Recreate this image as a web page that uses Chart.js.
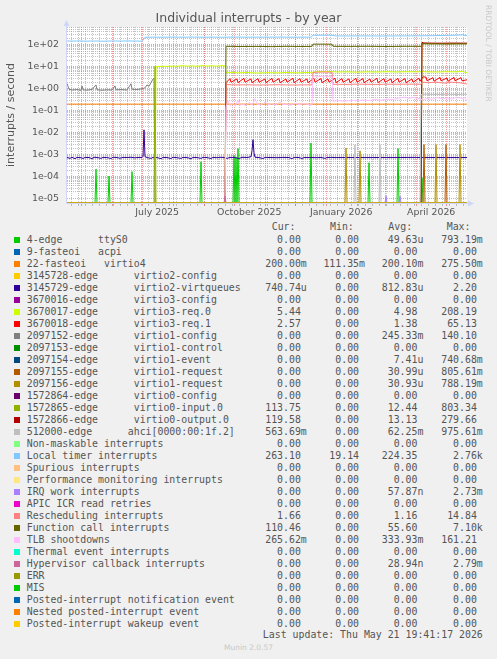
<!DOCTYPE html>
<html><head><meta charset="utf-8">
<script src="https://cdn.jsdelivr.net/npm/chart.js"></script>
<style>
html,body{margin:0;padding:0;background:#F0F0F0;}
#wrap{position:relative;width:497px;height:659px;overflow:hidden;background:#F0F0F0;}
#c{position:absolute;left:0;top:0;display:block;}
.lg{position:absolute;font-family:'DejaVu Sans Mono',monospace;font-size:9.9px;color:#555;white-space:pre;line-height:12px;height:12px;}
.sq{position:absolute;width:6px;height:6px;}
.mu{position:absolute;font-family:'DejaVu Sans',sans-serif;font-size:7.5px;color:#c8c8c8;white-space:pre;}
</style></head><body>
<div id="wrap"><canvas id="c" width="497" height="220"></canvas><div id="legend"></div></div>
<script>
// ---------- text ----------
const chartTitle = 'Individual interrupts - by year';
const yAxisTitle = 'interrupts / second';
const sideText = 'RRDTOOL / TOBI OETIKER';
const lastUpdate = 'Last update: Thu May 21 19:41:17 2026';
const footerText = 'Munin 2.0.57';
const colHeaders = ['Cur:', 'Min:', 'Avg:', 'Max:'];

// ---------- time axis ----------
const startTime = '2025-04-16T19:41:17Z';   // 400 days before last update
const spanDays = 400;
const monthStarts = ['2025-05-01','2025-06-01','2025-07-01','2025-08-01','2025-09-01','2025-10-01','2025-11-01','2025-12-01','2026-01-01','2026-02-01','2026-03-01','2026-04-01','2026-05-01'];
const firstWeekStart = '2025-04-21';
const xLabelDates = ['2025-07-16','2025-10-16','2026-01-16','2026-04-16'];
const xLabelText = ['July 2025','October 2025','January 2026','April 2026'];

// ---------- value axis ----------
const yMin = 6.3e-6, yMax = 650;
const yTickValues = [1e-5,1e-4,1e-3,1e-2,1e-1,1e0,1e1,1e2];
const yTickLabels = ['1e-05','1e-04','1e-03','1e-02','1e-01','1e+00','1e+01','1e+02'];

// ---------- series ----------
const seriesLabels = [
 '4-edge      ttyS0','9-fasteoi   acpi','22-fasteoi   virtio4',
 '3145728-edge      virtio2-config','3145729-edge      virtio2-virtqueues',
 '3670016-edge      virtio3-config','3670017-edge      virtio3-req.0','3670018-edge      virtio3-req.1',
 '2097152-edge      virtio1-config','2097153-edge      virtio1-control','2097154-edge      virtio1-event',
 '2097155-edge      virtio1-request','2097156-edge      virtio1-request',
 '1572864-edge      virtio0-config','1572865-edge      virtio0-input.0','1572866-edge      virtio0-output.0',
 '512000-edge      ahci[0000:00:1f.2]',
 'Non-maskable interrupts','Local timer interrupts','Spurious interrupts','Performance monitoring interrupts',
 'IRQ work interrupts','APIC ICR read retries','Rescheduling interrupts','Function call interrupts',
 'TLB shootdowns','Thermal event interrupts','Hypervisor callback interrupts','ERR','MIS',
 'Posted-interrupt notification event','Nested posted-interrupt event','Posted-interrupt wakeup event'];
const seriesColors = ['#00CC00','#0066B3','#FF8000','#FFCC00','#330099','#990099','#CCFF00','#FF0000',
 '#808080','#008F00','#00487D','#B35A00','#B38F00','#6B006B','#8FB300','#B30000','#BEBEBE',
 '#80FF80','#80C9FF','#FFC080','#FFE680','#AA80FF','#EE00CC','#FF8080','#666600','#FFBFFF',
 '#00FFCC','#CC6699','#999900','#00CC00','#0066B3','#FF8000','#FFCC00'];
const curValues = ['0.00','0.00','200.00m','0.00','740.74u','0.00','5.44','2.57','0.00','0.00','0.00','0.00','0.00','0.00','113.75','119.58','563.69m','0.00','263.10','0.00','0.00','0.00','0.00','1.66','110.46','265.62m','0.00','0.00','0.00','0.00','0.00','0.00','0.00'];
const minValues = ['0.00','0.00','111.35m','0.00','0.00','0.00','0.00','0.00','0.00','0.00','0.00','0.00','0.00','0.00','0.00','0.00','0.00','0.00','19.14','0.00','0.00','0.00','0.00','0.00','0.00','0.00','0.00','0.00','0.00','0.00','0.00','0.00','0.00'];
const avgValues = ['49.63u','0.00','200.10m','0.00','812.83u','0.00','4.98','1.38','245.33m','0.00','7.41u','30.99u','30.93u','0.00','12.44','13.13','62.25m','0.00','224.35','0.00','0.00','57.87n','0.00','1.16','55.60','333.93m','0.00','28.94n','0.00','0.00','0.00','0.00','0.00'];
const maxValues = ['793.19m','0.00','275.50m','0.00','2.20','0.00','208.19','65.13','140.10','0.00','740.68m','805.61m','788.19m','0.00','803.34','279.66','975.61m','0.00','2.76k','0.00','0.00','2.73m','0.00','14.84','7.10k','161.21','0.00','2.79m','0.00','0.00','0.00','0.00','0.00'];

// data points: [day since start, interrupts/second]
const zeroLine = [[0,0],[400,0]];
const ttyS0 = [[0,0],[28,0],[29,2.2e-4],[30,0],[41,0],[42,1.07e-4],[43,0],[64,0],[65,1.7e-4],[66,0],[133,0],[134,4.8e-4],[135,0],[166,0],[167,9e-4],[168,0],[169,7.5e-4],[170,0],[171,1.9e-3],[172,0],[243,0],[244,3.4e-3],[245,0],[301,0],[302,4.3e-4],[303,0],[330,0],[331,1.9e-3],[332,0],[354,0],[355,9e-5],[356,0],[400,0]];
const virtio4 = [[0,0.2],[100,0.2],[200,0.2],[300,0.2],[400,0.2]];
const virtio2Queues = [[0,7.5e-4],[3,6.8e-4],[5,7.6e-4],[8,6.6e-4],[10,7.5e-4],[14,7.3e-4],[16,6.7e-4],[18,7.5e-4],[22,7.4e-4],[25,6.6e-4],[27,7.6e-4],[31,7.3e-4],[34,6.8e-4],[36,7.5e-4],[40,7.4e-4],[44,6.7e-4],[46,7.6e-4],[50,7.4e-4],[53,6.9e-4],[56,7.5e-4],[60,7.4e-4],[64,7.6e-4],[68,7.2e-4],[72,7.5e-4],[75,7.4e-4],[76,8.5e-4],[77,1.35e-2],[78,8e-4],[80,7.4e-4],[84,6.8e-4],[86,7.5e-4],[90,7.4e-4],[94,6.6e-4],[96,7.5e-4],[100,7.4e-4],[104,6.7e-4],[106,7.6e-4],[110,7.3e-4],[114,6.8e-4],[116,7.5e-4],[120,7.4e-4],[124,6.6e-4],[126,7.5e-4],[130,7.4e-4],[134,6.8e-4],[136,7.5e-4],[140,7.4e-4],[144,6.7e-4],[146,7.5e-4],[150,7.3e-4],[154,7.6e-4],[157,7.4e-4],[160,6.8e-4],[163,7.5e-4],[168,7.4e-4],[172,6.7e-4],[175,7.6e-4],[180,7.4e-4],[184,8e-4],[185,1.5e-3],[186,4.8e-3],[187,1.2e-3],[188,7.6e-4],[192,7.4e-4],[196,6.7e-4],[198,7.5e-4],[204,7.4e-4],[210,7.3e-4],[216,7.5e-4],[222,7.4e-4],[225,6.6e-4],[227,7.5e-4],[232,7.4e-4],[235,6.7e-4],[237,7.4e-4],[245,7.4e-4],[250,7.3e-4],[254,7.5e-4],[258,6.8e-4],[260,7.4e-4],[264,7.5e-4],[268,7.4e-4],[300,7.4e-4],[330,7.4e-4],[348,7.5e-4],[352,7.4e-4],[400,7.4e-4]];
const virtio3Req0 = [[0,0],[88,0],[89,10.2],[95,10.6],[100,10.4],[105,10.8],[110,10.5],[115,11.2],[120,10.7],[125,11.0],[130,10.6],[135,11.3],[140,10.8],[145,11.1],[150,10.7],[155,11.4],[158,10.9],[159,5.3],[165,5.6],[170,5.3],[180,5.5],[190,5.2],[200,5.4],[210,5.3],[220,5.5],[230,5.3],[240,5.5],[246,5.6],[250,6.0],[260,6.1],[266,6.0],[270,5.8],[280,5.9],[290,5.7],[300,5.9],[310,5.8],[320,6.0],[330,5.8],[340,6.0],[350,5.9],[355,6.1],[360,5.9],[370,5.8],[380,6.0],[390,5.9],[395,6.3],[398,5.6],[400,5.44]];
const virtio3Req1 = [[0,0],[158,0],[159,1.9],[163,2.9],[164,2.0],[170,2.8],[171,1.9],[177,3.0],[178,2.0],[184,2.8],[185,1.9],[191,2.9],[192,2.0],[198,2.8],[199,1.9],[205,3.0],[206,2.0],[212,2.9],[213,1.9],[219,2.8],[220,2.0],[226,3.0],[227,1.9],[233,2.9],[234,2.0],[240,2.8],[241,1.9],[247,3.0],[248,2.0],[254,2.9],[255,1.9],[261,2.8],[262,2.0],[268,3.0],[269,1.9],[275,2.9],[276,2.0],[282,2.8],[283,1.9],[289,3.0],[290,2.0],[296,2.9],[297,1.9],[303,2.8],[304,2.0],[310,3.0],[311,1.9],[317,2.9],[318,2.0],[324,2.8],[325,1.9],[331,3.0],[332,2.0],[338,2.9],[339,1.9],[345,2.8],[346,2.0],[352,3.0],[353,2.2],[356,3.5],[359,3.4],[360,2.3],[366,3.2],[367,2.2],[373,3.3],[374,2.3],[380,3.1],[381,2.2],[387,3.3],[388,2.3],[394,3.2],[395,2.3],[400,2.57]];
const virtio1Config = [[0,1.75],[2,0.95],[5,0.88],[10,0.92],[14,0.85],[15,1.35],[16,0.9],[20,0.87],[25,0.93],[29,1.5],[30,0.9],[35,0.86],[40,0.9],[45,0.88],[48,1.35],[49,0.9],[55,0.92],[60,0.88],[64,1.7],[65,0.95],[70,0.93],[75,1.0],[78,1.1],[80,1.5],[82,1.3],[84,1.9],[86,2.8],[87,3.0],[88,0],[400,0]];
const virtio1Req55 = [[0,0],[356,0],[357,2.9e-3],[358,0],[378,0],[379,2.9e-3],[380,0],[400,0]];
const virtio1Req56 = [[0,0],[278,0],[279,2.0e-3],[280,0],[292,0],[293,1.5e-3],[294,0],[368,0],[369,2.9e-3],[370,0],[392,0],[393,2.9e-3],[394,0],[400,0]];
const virtio0Input = [[0,0],[87,0],[88,10.5],[89,0],[354,0],[355,115],[365,113],[375,114],[385,112],[395,114],[400,113.75]];
const virtio0Output = [[0,0],[354,0],[355,130],[357,122],[365,120],[375,119],[385,121],[395,120],[400,119.58]];
const ahci = [[0,0],[287,0],[288,2.85e-3],[289,0],[312,0],[313,2.85e-3],[314,0],[353,0],[354,0.55],[360,0.56],[370,0.55],[380,0.56],[390,0.55],[400,0.5637]];
const localTimer = [[0,150],[6,148],[12,151],[18,147],[24,149],[30,150],[36,146],[42,149],[48,150],[54,148],[60,151],[66,149],[72,148],[75,147],[76,160],[78,222],[85,224],[95,222],[105,226],[115,223],[125,227],[135,223],[145,225],[155,222],[165,226],[175,224],[185,223],[195,225],[205,224],[215,227],[225,223],[235,225],[244,224],[246,272],[255,276],[265,274],[268,255],[280,254],[295,256],[310,253],[325,255],[340,256],[355,258],[365,262],[375,266],[385,272],[392,280],[396,284],[398,270],[400,263]];
const irqWork = [[0,0],[318,0],[319,1.3e-5],[320,0],[332,0],[333,1.3e-5],[334,0],[400,0]];
const rescheduling = [[0,0],[158,0],[159,1.55],[170,1.5],[180,1.52],[190,1.48],[200,1.5],[210,1.53],[220,1.5],[230,1.49],[240,1.52],[245,1.5],[246,5.6],[255,5.8],[265,5.7],[266,1.6],[280,1.58],[290,1.62],[300,1.6],[310,1.57],[320,1.62],[330,1.6],[340,1.63],[350,1.6],[354,1.6],[355,2.0],[362,1.9],[370,2.0],[378,1.8],[385,2.0],[392,1.9],[398,1.7],[400,1.66]];
const functionCall = [[0,0],[158,0],[159,86],[175,84],[190,85],[205,83],[220,86],[235,84],[245,85],[246,108],[265,107],[266,86],[280,85],[300,86],[320,84],[340,86],[354,85],[355,112],[365,111],[380,109],[390,111],[400,110.46]];
const tlbShootdowns = [[0,0],[158,0],[159,0.15],[161,0.28],[163,0.17],[166,0.22],[168,0.16],[171,0.3],[173,0.18],[176,0.2],[179,0.17],[182,0.24],[185,0.18],[188,0.35],[190,0.2],[194,0.18],[198,0.25],[201,0.19],[205,0.21],[209,0.18],[213,0.26],[216,0.19],[220,0.2],[224,0.18],[228,0.22],[232,0.19],[236,0.21],[240,0.2],[244,0.18],[245,0.19],[246,3.8],[252,3.6],[258,3.7],[265,3.5],[266,0.27],[272,0.29],[278,0.27],[284,0.3],[290,0.28],[296,0.31],[302,0.29],[308,0.33],[314,0.3],[320,0.34],[326,0.32],[332,0.38],[338,0.42],[342,0.36],[346,0.41],[350,0.37],[354,0.35],[355,0.3],[360,0.36],[365,0.33],[370,0.4],[375,0.35],[380,0.38],[385,0.34],[390,0.42],[395,0.36],[398,0.4],[400,0.27]];
const hypervisorCb = [[0,0],[157,0],[158,1.3e-5],[159,0],[400,0]];

const seriesData = [ttyS0, zeroLine, virtio4, zeroLine, virtio2Queues, zeroLine, virtio3Req0, virtio3Req1,
 virtio1Config, zeroLine, zeroLine, virtio1Req55, virtio1Req56, zeroLine, virtio0Input, virtio0Output, ahci,
 zeroLine, localTimer, zeroLine, zeroLine, irqWork, zeroLine, rescheduling, functionCall, tlbShootdowns,
 zeroLine, hypervisorCb, zeroLine, zeroLine, zeroLine, zeroLine, zeroLine];

// ---------- helpers ----------
const t0 = Date.parse(startTime);
const dayOf = s => (Date.parse(s + 'T00:00:00Z') - t0) / 864e5;
// a log axis cannot show 0: like RRDtool, a zero rate is drawn on the bottom edge of the graph
const toPlot = pts => pts.map(([x, y]) => ({x, y: y > 0 ? y : yMin}));

const xTicks = [];
for (let d = dayOf(firstWeekStart); d <= spanDays; d += 7) xTicks.push({value: d, kind: 'minor', text: ''});
monthStarts.forEach(s => { const d = dayOf(s); if (d >= 0 && d <= spanDays) xTicks.push({value: d, kind: 'major', text: ''}); });
xLabelDates.forEach((s, i) => xTicks.push({value: dayOf(s), kind: 'label', text: xLabelText[i]}));
xTicks.sort((a, b) => a.value - b.value);

const yTicks = [];
yTickValues.forEach((dec, i) => {
  for (let k = 1; k <= 9; k++) {
    const v = k * dec;
    if (v >= yMin && v <= yMax) yTicks.push({value: v, kind: k === 1 ? 'major' : 'minor', text: k === 1 ? yTickLabels[i] : ''});
  }
});

const MINOR = 'rgba(143,143,143,0.55)';
const MAJOR = 'rgba(222,79,79,0.55)';
const AXIS = '#CFD6F8';
const gridCol = t => !t ? 'rgba(0,0,0,0)' : t.kind === 'major' ? MAJOR : t.kind === 'minor' ? MINOR : 'rgba(0,0,0,0)';

const muninPlugin = {
  id: 'munin',
  beforeDraw(chart) {
    const {ctx, chartArea: a} = chart;
    ctx.save();
    ctx.fillStyle = '#F0F0F0';
    ctx.fillRect(0, 0, chart.width, chart.height);
    ctx.fillStyle = '#FFFFFF';
    ctx.fillRect(a.left, a.top, a.right - a.left, a.bottom - a.top);
    ctx.restore();
  },
  beforeDatasetsDraw(chart) {
    const {ctx, chartArea: a} = chart;
    ctx.save();
    ctx.strokeStyle = AXIS; ctx.lineWidth = 1;
    ctx.beginPath();
    ctx.moveTo(a.left - 0.5, a.top - 2); ctx.lineTo(a.left - 0.5, a.bottom + 0.5);
    ctx.lineTo(a.right + 3, a.bottom + 0.5);
    ctx.stroke();
    ctx.fillStyle = AXIS;
    ctx.beginPath(); ctx.moveTo(a.left - 3.5, a.top - 1); ctx.lineTo(a.left + 2.5, a.top - 1); ctx.lineTo(a.left - 0.5, a.top - 7); ctx.closePath(); ctx.fill();
    ctx.beginPath(); ctx.moveTo(a.right + 1, a.bottom - 2.5); ctx.lineTo(a.right + 1, a.bottom + 3.5); ctx.lineTo(a.right + 7, a.bottom + 0.5); ctx.closePath(); ctx.fill();
    ctx.restore();
  },
  afterDraw(chart) {
    const {ctx} = chart;
    ctx.save();
    ctx.translate(487.5, 5);
    ctx.rotate(Math.PI / 2);
    ctx.font = '7.5px "DejaVu Sans"';
    ctx.fillStyle = '#c8c8c8';
    ctx.textBaseline = 'middle';
    ctx.textAlign = 'left';
    ctx.fillText(sideText, 0, 0);
    ctx.restore();
  }
};

const tickFont = {family: 'DejaVu Sans', size: 9.4};
new Chart(document.getElementById('c'), {
  type: 'line',
  data: {
    datasets: seriesData.map((d, i) => ({
      label: seriesLabels[i], data: toPlot(d),
      borderColor: seriesColors[i], backgroundColor: seriesColors[i],
      borderWidth: 1, pointRadius: 0, tension: 0, fill: false, order: -i,
      xAxisID: 'x', yAxisID: 'y'
    }))
  },
  options: {
    responsive: false, animation: false, devicePixelRatio: 1,
    layout: {padding: 0},
    events: [],
    plugins: {
      legend: {display: false}, tooltip: {enabled: false},
      title: {display: true, text: chartTitle, color: '#555',
        font: {family: 'DejaVu Sans', size: 12.5, weight: 'normal', lineHeight: 1.2},
        padding: {top: 11.5, bottom: 0.5}}
    },
    scales: {
      x: {
        type: 'linear', min: 0, max: spanDays, position: 'bottom',
        afterBuildTicks: s => { s.ticks = xTicks.map(t => ({...t})); },
        afterFit: s => { s.height = 17; },
        ticks: {autoSkip: false, maxRotation: 0, minRotation: 0, padding: 1, color: '#555', font: tickFont,
          callback: (v, i, ts) => (ts[i] && ts[i].text) || ''},
        grid: {color: c => gridCol(c.tick), lineWidth: 1, drawTicks: true, tickLength: 3, tickColor: c => gridCol(c.tick)},
        border: {display: false, dash: c => (c.tick ? [1, 1] : [])}
      },
      y: {
        type: 'logarithmic', min: yMin, max: yMax, bounds: 'data', position: 'left',
        afterBuildTicks: s => { s.ticks = yTicks.map(t => ({...t})); },
        afterFit: s => { s.width = 67; },
        ticks: {autoSkip: false, padding: 8, color: '#555', font: tickFont,
          callback: (v, i, ts) => (ts[i] && ts[i].text) || ''},
        grid: {color: c => gridCol(c.tick), lineWidth: 1, drawTicks: false},
        border: {display: false, dash: c => (c.tick ? [1, 1] : [])},
        title: {display: true, text: yAxisTitle, color: '#555', font: {family: 'DejaVu Sans', size: 11}, padding: {top: 5, bottom: 0}}
      },
      yR: {
        type: 'linear', position: 'right', display: true,
        grid: {display: false, drawTicks: false}, ticks: {display: false}, border: {display: false},
        afterFit: s => { s.width = 30; }
      }
    }
  },
  plugins: [muninPlugin]
});

// ---------- legend (text table under the graph) ----------
const lg = document.getElementById('legend');
const add = (cls, css, text) => { const e = document.createElement('div'); e.className = cls; e.style.cssText = css; if (text !== undefined) e.textContent = text; lg.appendChild(e); return e; };
const colLeft = [271.7, 330, 388.3, 446.7];
const colRight = [306.8, 365, 423.4, 482.8];
colHeaders.forEach((h, j) => add('lg', `left:${colLeft[j]}px;top:221px;`, h));
const fmt = v => /[a-zA-Z]$/.test(v) ? v : v + ' ';
seriesLabels.forEach((name, i) => {
  const top = 234 + 12 * i;
  add('sq', `left:14px;top:${top + 3}px;background:${seriesColors[i]};`);
  add('lg', `left:26.7px;top:${top}px;`, name);
  [curValues, minValues, avgValues, maxValues].forEach((col, j) => {
    add('lg', `right:${497 - colRight[j]}px;top:${top}px;text-align:right;`, fmt(col[i]));
  });
});
add('lg', `right:${497 - 482.8}px;top:629px;text-align:right;`, lastUpdate);
add('mu', `left:0;width:497px;text-align:center;top:643px;`, footerText);
</script>
</body></html>
